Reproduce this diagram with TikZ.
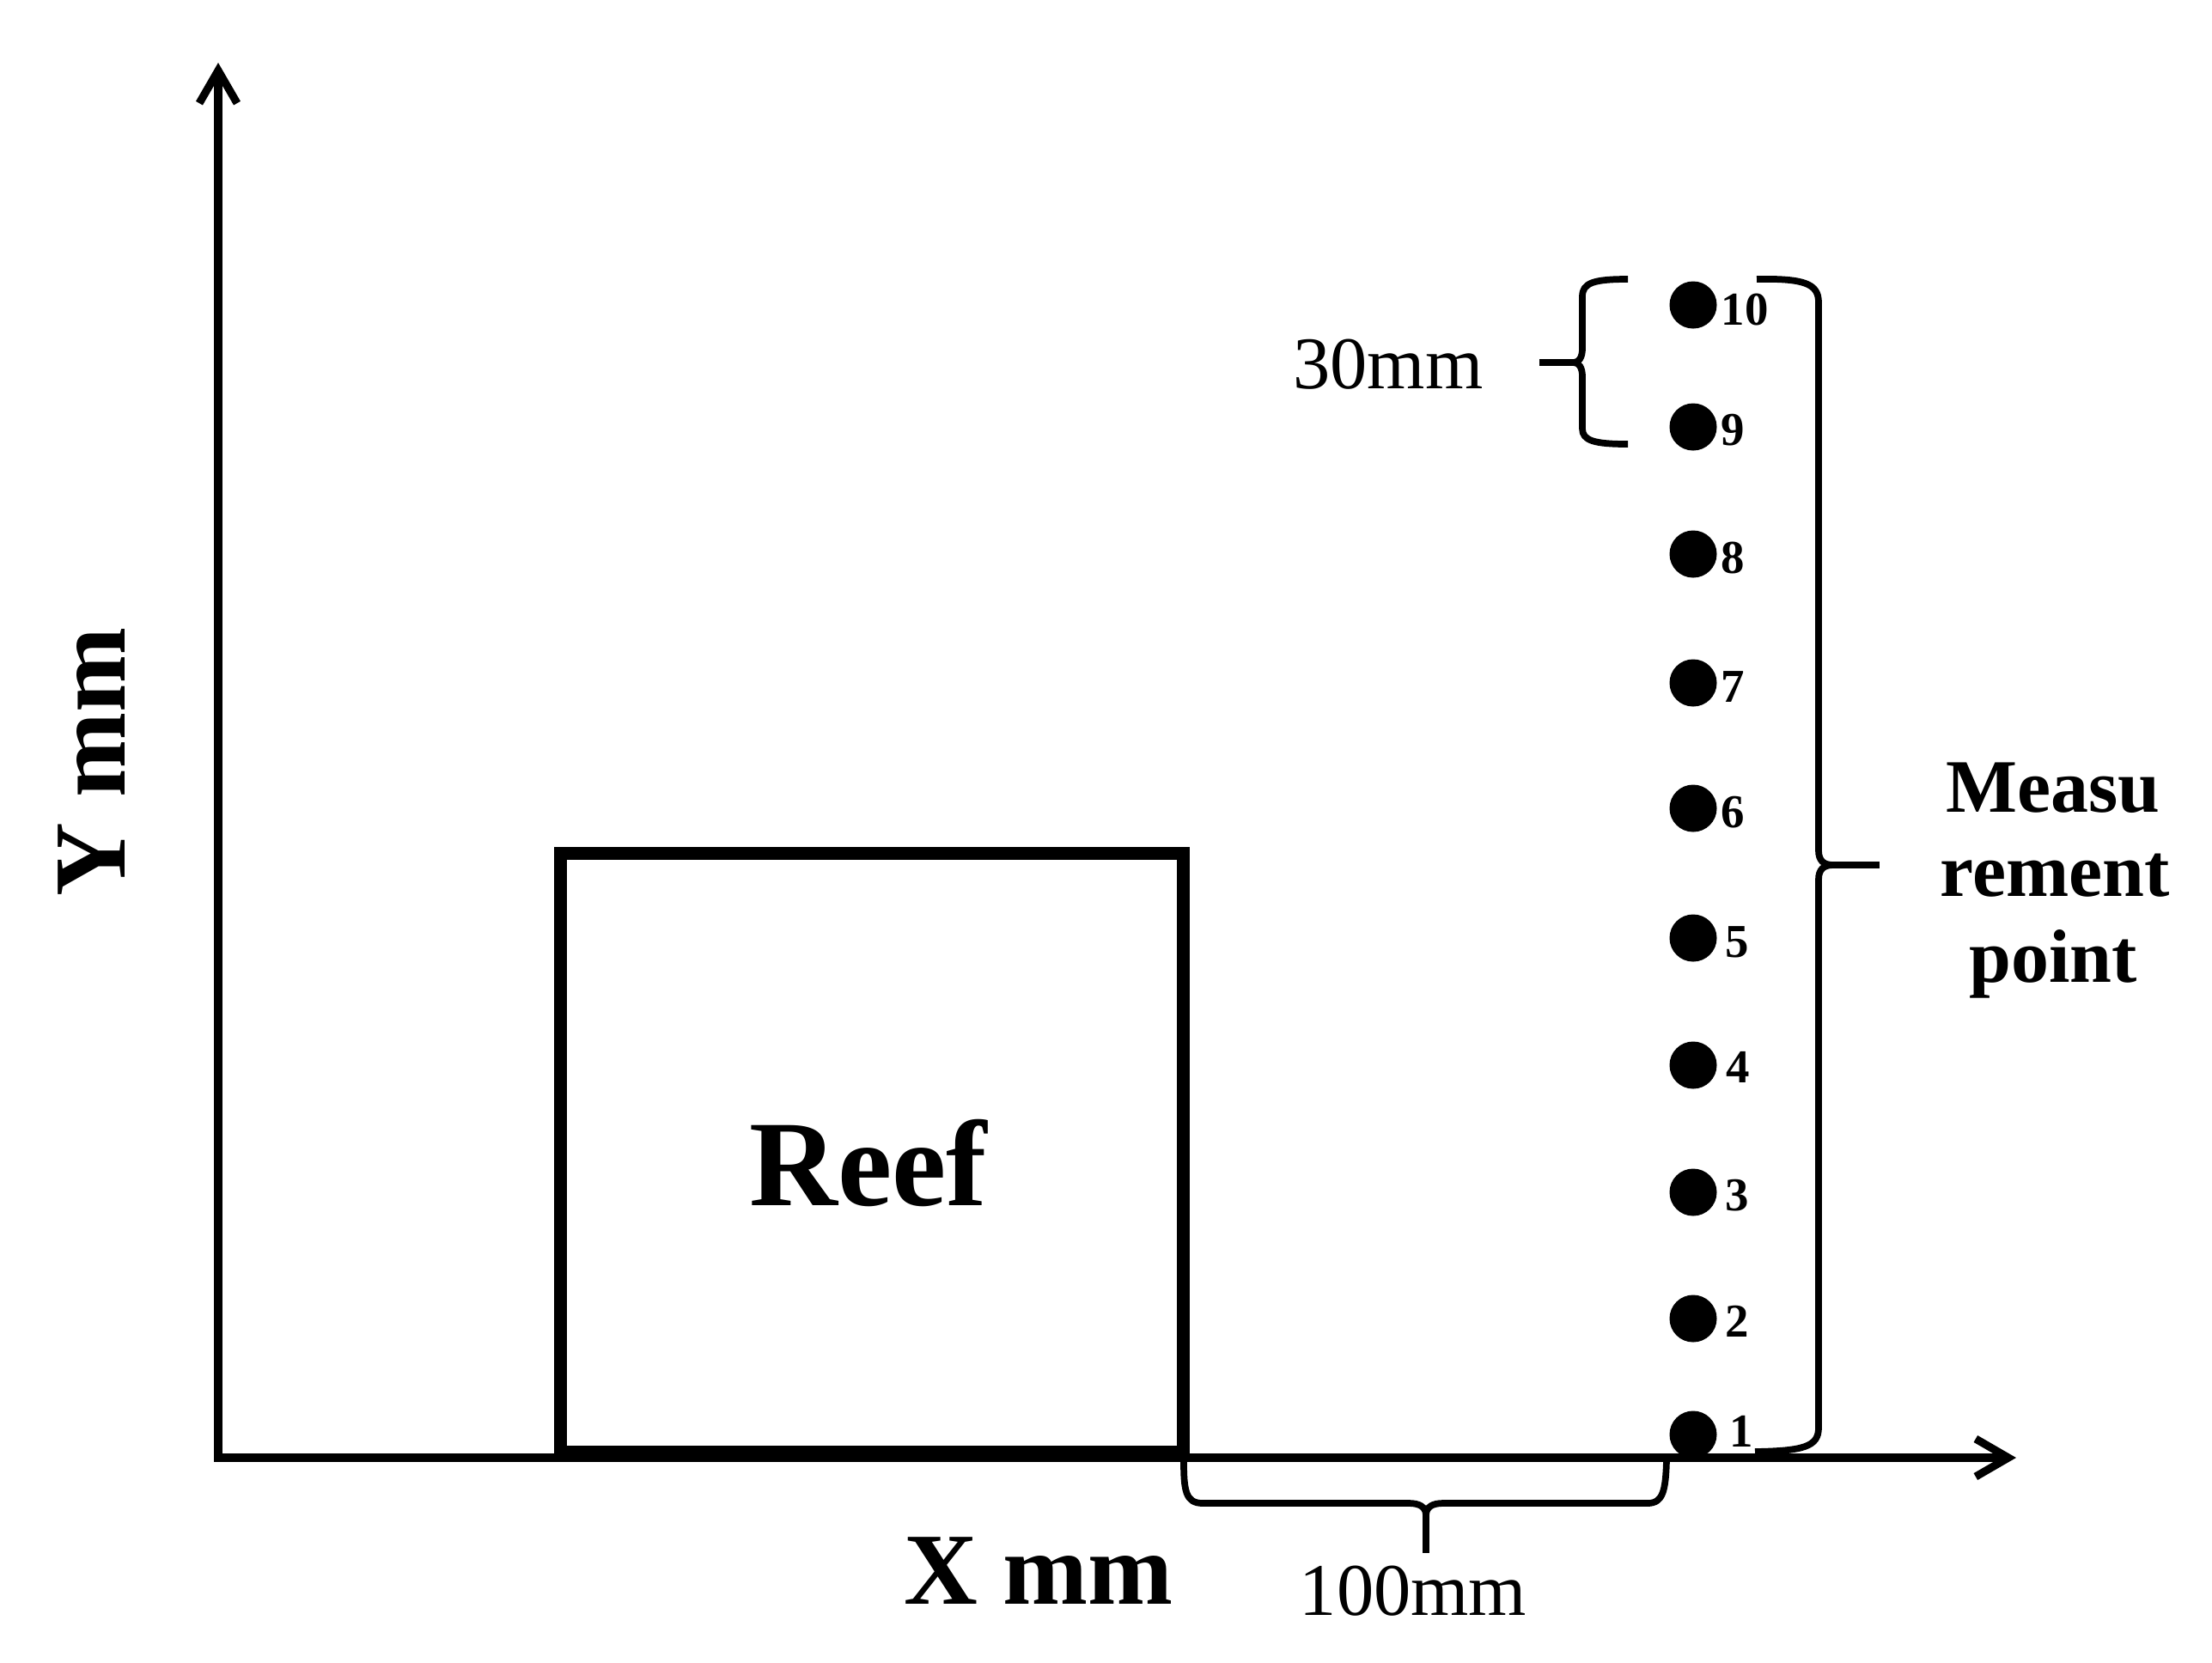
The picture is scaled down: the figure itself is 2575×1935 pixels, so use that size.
\documentclass[tikz,border=0pt]{standalone}
\usepackage{fontspec}
\setmainfont{Liberation Serif}
\usetikzlibrary{arrows.meta}
\begin{document}
\begin{tikzpicture}[x=0.01cm,y=-0.01cm,
  axisline/.style={line width=2.6pt, line join=miter,
    {Straight Barb[length=3.8mm,width=4.4mm]}-{Straight Barb[length=3.8mm,width=4.4mm]}},
  bracepath/.style={line width=2.2pt, line join=round},
  reefbox/.style={draw, line width=4.3pt, inner sep=0pt, rectangle,
    minimum width=7.24cm, minimum height=6.96cm},
  dot/.style={circle, fill=black, minimum size=0.55cm, inner sep=0pt},
  num/.style={font=\fontsize{15.6}{18}\selectfont\bfseries, inner sep=0pt, anchor=base west},
  biglab/.style={font=\fontsize{33.8}{40}\selectfont\bfseries, inner sep=0pt, anchor=base},
  dimlab/.style={font=\fontsize{24.6}{30}\selectfont, inner sep=0pt, anchor=base},
  measlab/.style={font=\fontsize{25}{30}\selectfont\bfseries, inner sep=0pt, anchor=base}
]
\useasboundingbox (0,0) rectangle (2575,1935);

% axes
\coordinate (O) at (254,1697);
\coordinate (xend) at (2347,1697);
\coordinate (yend) at (254,73);
\draw[axisline] (yend) -- (O) -- (xend);

% reef
\node[reefbox] (reef) at (1015,1342) {};
\node[font=\fontsize{40.5}{48}\selectfont\bfseries, inner sep=0pt, anchor=base] (reeftxt) at (1011,1403) {Reef};

% axis labels
\node[biglab, rotate=90] (ylab) at (145,887) {Y mm};
\node[biglab] (xlab) at (1209,1867) {X mm};

% measurement points
\foreach \i/\yy/\dx/\dy in {1/1670/42/14, 2/1535/37/21, 3/1388/37/21, 4/1240/38/20, 5/1092/37/22,
                      6/941/32/22, 7/795/32/22, 8/645/32/22, 9/497/32/21, 10/355/32/23} {
  \node[dot] (p\i) at (1971,\yy) {};
  \node[num] (l\i) at ([xshift=\dx*0.01cm, yshift=-\dy*0.01cm]p\i.center) {\i};
}

% right brace
\coordinate (rtip) at (2134,1007);
\coordinate (rstub) at (2188,1007);
\draw[bracepath] (2045,325) .. controls (2100,324) and (2117,330) .. (2117,352)
  -- (2117,990) .. controls (2117,1002) and (2123,1007) .. (rtip)
  .. controls (2123,1007) and (2117,1012) .. (2117,1024)
  -- (2117,1662) .. controls (2117,1684) and (2100,1689) .. (2043,1690);
\draw[bracepath] (rtip) -- (rstub);

\node[measlab] (m1) at (2390,945) {Measu};
\node[measlab] (m2) at (2392,1043) {rement};
\node[measlab] (m3) at (2390,1143) {point};

% 30mm brace
\coordinate (ltip) at (1832,422);
\coordinate (lstub) at (1792,422);
\draw[bracepath] (1895,325) .. controls (1856,325) and (1842,329) .. (1842,345)
  -- (1842,406) .. controls (1842,416) and (1838,422) .. (ltip)
  .. controls (1838,422) and (1842,428) .. (1842,438)
  -- (1842,499) .. controls (1842,513) and (1856,517) .. (1895,517);
\draw[bracepath] (ltip) -- (lstub);
\node[dimlab] (d30) at (1616,452) {30mm};

% 100mm brace
\coordinate (btip) at (1660,1764);
\coordinate (bstub) at (1660,1808);
\draw[bracepath] (1378,1700) .. controls (1378,1735) and (1380,1750) .. (1400,1750)
  -- (1640,1750) .. controls (1652,1750) and (1660,1754) .. (btip)
  .. controls (1660,1754) and (1668,1750) .. (1680,1750)
  -- (1918,1750) .. controls (1936,1750) and (1939,1735) .. (1940,1700);
\draw[bracepath] (btip) -- (bstub);
\node[dimlab] (d100) at (1645,1880) {100mm};
\end{tikzpicture}
\end{document}
